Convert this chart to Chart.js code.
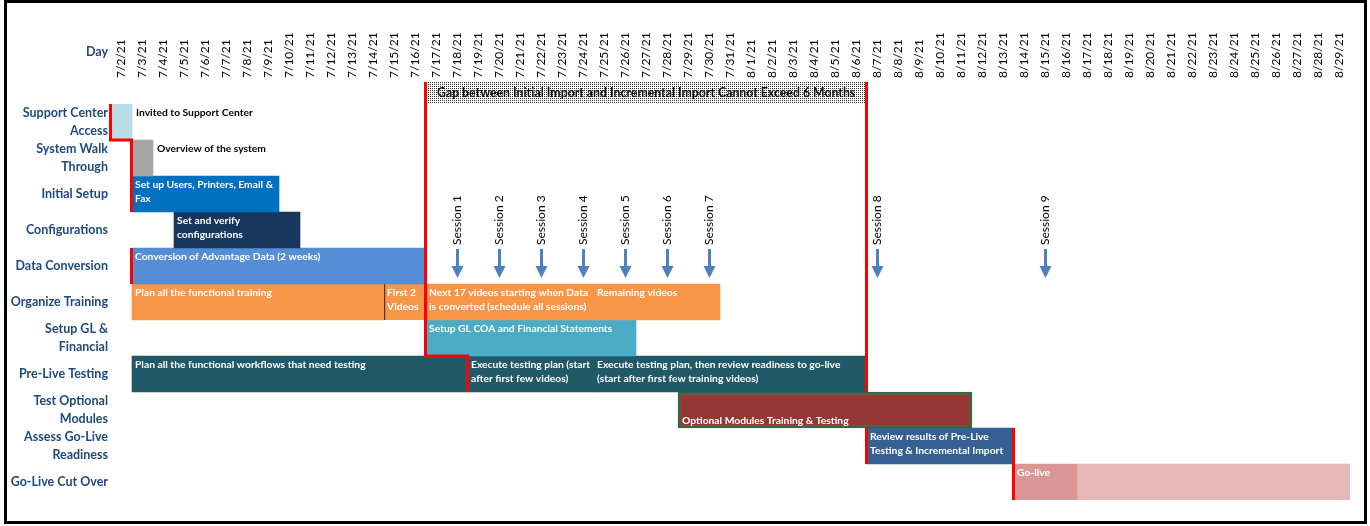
<!DOCTYPE html>
<html><head><meta charset="utf-8">
<script src="https://cdn.jsdelivr.net/npm/chart.js@4.4.1/dist/chart.umd.min.js"></script>
<style>
html,body{margin:0;padding:0;background:#fff;}
#wrap{position:relative;width:1370px;height:526px;overflow:hidden;}
#frame{position:absolute;left:4px;top:0;width:1363px;height:524px;box-sizing:border-box;border:3px solid #000;pointer-events:none;}
canvas{position:absolute;left:0;top:0;}
</style></head><body>
<div id="wrap"><canvas id="c" width="1370" height="526"></canvas><div id="frame"></div></div>
<script>
// ---------- DATA ----------
const days = ['7/2/21','7/3/21','7/4/21','7/5/21','7/6/21','7/7/21','7/8/21','7/9/21','7/10/21','7/11/21',
  '7/12/21','7/13/21','7/14/21','7/15/21','7/16/21','7/17/21','7/18/21','7/19/21','7/20/21','7/21/21',
  '7/22/21','7/23/21','7/24/21','7/25/21','7/26/21','7/27/21','7/28/21','7/29/21','7/30/21','7/31/21',
  '8/1/21','8/2/21','8/3/21','8/4/21','8/5/21','8/6/21','8/7/21','8/8/21','8/9/21','8/10/21',
  '8/11/21','8/12/21','8/13/21','8/14/21','8/15/21','8/16/21','8/17/21','8/18/21','8/19/21','8/20/21',
  '8/21/21','8/22/21','8/23/21','8/24/21','8/25/21','8/26/21','8/27/21','8/28/21','8/29/21'];

const rowLabels = [['Support Center','Access'], ['System Walk','Through'], 'Initial Setup', 'Configurations',
  'Data Conversion', 'Organize Training', ['Setup GL &','Financial'], 'Pre-Live Testing',
  ['Test Optional','Modules'], ['Assess Go-Live','Readiness'], 'Go-Live Cut Over'];

const taskRow   = [0,1,2,3,4,5,5,5,5,6,7,7,7,8,9,10,10];
const taskStart = ['7/2/21','7/3/21','7/3/21','7/5/21','7/3/21','7/3/21','7/15/21','7/17/21','7/25/21',
  '7/17/21','7/3/21','7/19/21','7/25/21','7/29/21','8/7/21','8/14/21','8/17/21'];
const taskEnd   = ['7/2/21','7/3/21','7/9/21','7/10/21','7/16/21','7/14/21','7/16/21','7/24/21','7/30/21',
  '7/26/21','7/18/21','7/24/21','8/6/21','8/11/21','8/13/21','8/16/21','8/29/21'];
const taskText = [
  ['Invited to Support Center'],
  ['Overview of the system'],
  ['Set up Users, Printers, Email &','Fax'],
  ['Set and verify','configurations'],
  ['Conversion of Advantage Data (2 weeks)'],
  ['Plan all the functional training'],
  ['First 2','Videos'],
  ['Next 17 videos starting when Data','is converted (schedule all sessions)'],
  ['Remaining videos'],
  ['Setup GL COA and Financial Statements'],
  ['Plan all the functional workflows that need testing'],
  ['Execute testing plan (start','after first few videos)'],
  ['Execute testing plan, then review readiness to go-live','(start after first few training videos)'],
  ['Optional Modules Training & Testing'],
  ['Review results of Pre-Live','Testing & Incremental Import'],
  ['Go-live'],
  []
];

const sessionNames = ['Session 1','Session 2','Session 3','Session 4','Session 5','Session 6','Session 7','Session 8','Session 9'];
const sessionDays  = ['7/18/21','7/20/21','7/22/21','7/24/21','7/26/21','7/28/21','7/30/21','8/7/21','8/15/21'];

const gapStart = '7/17/21';
const gapEnd   = '8/6/21';
const gapText  = 'Gap between Initial Import and Incremental Import Cannot Exceed 6 Months';

// milestone (red) paths: [day boundary, row edge]; 'gap' = top of the gap banner
const milestonePaths = [
  [['7/2/21',0],['7/2/21',1],['7/3/21',1],['7/3/21',3]],
  [['7/3/21',4],['7/3/21',5]],
  [['7/17/21','gap'],['7/17/21',7],['7/19/21',7],['7/19/21',8]],
  [['8/7/21','gap'],['8/7/21',8]],
  [['8/7/21',9],['8/7/21',10]],
  [['8/14/21',9],['8/14/21',11]]
];

// ---------- STYLE ----------
const taskColor = ['#B7DEE8','#A6A6A6','#0070C0','#17375E','#558ED5','#F79646','#F79646','#F79646','#F79646',
  '#4BACC6','#215968','#215968','#215968','#953735','#366092','#DA9694','#E6B8B7'];
const taskTextColor = ['#000','#000','#fff','#fff','#fff','#fff','#fff','#fff','#fff','#fff','#fff','#fff','#fff','#fff','#fff','#fff','#fff'];
const taskTextMode = ['outside','outside','in','in','in','in','in','in','in','in','in','in','in','bottom','in','in','in'];
const taskBorder = taskRow.map((r,i) => i === 13 ? {w:2.5, c:'#2D6B47'} : (i === 6 ? {w:{left:1.5,top:0,right:0,bottom:0}, c:'#000'} : {w:0, c:'rgba(0,0,0,0)'}));

const FONT = 'Lato, "Noto Sans", sans-serif';
Chart.defaults.font.family = FONT;

const idx = d => days.indexOf(d);

const datasets = taskRow.map((r, i) => {
  const data = rowLabels.map(() => null);
  data[r] = [idx(taskStart[i]), idx(taskEnd[i]) + 1];
  return {
    label: 'task' + i,
    data,
    backgroundColor: taskColor[i],
    borderColor: taskBorder[i].c,
    borderWidth: taskBorder[i].w,
    borderSkipped: false,
    grouped: false,
    barPercentage: 1,
    categoryPercentage: 1
  };
});

// dotted pattern for banner
const pc = document.createElement('canvas'); pc.width = 2; pc.height = 2;
const pctx = pc.getContext('2d');
pctx.fillStyle = '#fff'; pctx.fillRect(0,0,2,2);
pctx.fillStyle = '#333'; pctx.fillRect(0,0,1,1);

const overlay = {
  id: 'overlay',
  afterDatasetsDraw(chart) {
    const {ctx, chartArea, scales: {x, y}} = chart;
    const rowH = y.getPixelForValue(1) - y.getPixelForValue(0);
    const bannerH = 22;
    const edgeY = e => e === 'gap' ? chartArea.top - bannerH : chartArea.top + e * rowH;
    ctx.save();

    // Day label
    ctx.font = 'bold 12.5px ' + FONT;
    ctx.fillStyle = '#1F497D';
    ctx.textAlign = 'right'; ctx.textBaseline = 'middle';
    ctx.fillText('Day', chartArea.left - 3, chartArea.top - 52);

    // Gap banner
    const gx0 = x.getPixelForValue(idx(gapStart));
    const gx1 = x.getPixelForValue(idx(gapEnd) + 1);
    ctx.fillStyle = ctx.createPattern(pc, 'repeat');
    ctx.fillRect(gx0, chartArea.top - bannerH, gx1 - gx0, bannerH);
    ctx.font = 'bold 12.3px ' + FONT;
    ctx.textAlign = 'left';
    ctx.fillStyle = '#111';
    ctx.fillText(gapText, gx0 + 11, chartArea.top - bannerH / 2);

    // Task texts
    ctx.font = 'bold 10.3px ' + FONT;
    ctx.textBaseline = 'middle';
    taskRow.forEach((r, i) => {
      const lines = taskText[i];
      if (!lines.length) return;
      const s = x.getPixelForValue(idx(taskStart[i]));
      const e = x.getPixelForValue(idx(taskEnd[i]) + 1);
      const top = edgeY(r);
      ctx.fillStyle = taskTextColor[i];
      let tx = s + 3, ty = top + 8.5;
      if (taskTextMode[i] === 'outside') { tx = e + 4; ty = top + 9; }
      if (taskTextMode[i] === 'bottom') { tx = s + 4; ty = top + 29; }
      lines.forEach((ln, k) => ctx.fillText(ln, tx, ty + k * 14));
    });

    // Sessions
    sessionDays.forEach((d, i) => {
      const cx = x.getPixelForValue(idx(d) + 0.5);
      const t = edgeY(4);
      ctx.save();
      ctx.translate(cx, t - 3);
      ctx.rotate(-Math.PI / 2);
      ctx.font = '12px ' + FONT;
      ctx.fillStyle = '#000';
      ctx.textAlign = 'left'; ctx.textBaseline = 'middle';
      ctx.fillText(sessionNames[i], 0, 0);
      ctx.restore();
      ctx.fillStyle = '#4F81BD';
      ctx.fillRect(cx - 1.5, t + 1, 3, 19);
      ctx.beginPath();
      ctx.moveTo(cx - 6, t + 18);
      ctx.lineTo(cx + 6, t + 18);
      ctx.lineTo(cx, t + 30);
      ctx.closePath();
      ctx.fill();
    });

    // milestone red lines
    ctx.strokeStyle = '#FF0000';
    ctx.lineWidth = 3;
    ctx.lineJoin = 'miter';
    milestonePaths.forEach(p => {
      ctx.beginPath();
      p.forEach(([d, e], k) => {
        const px = x.getPixelForValue(idx(d)) - 0.5;
        const py = edgeY(e);
        if (k === 0) ctx.moveTo(px, py); else ctx.lineTo(px, py);
      });
      ctx.stroke();
    });
    ctx.restore();
  }
};

new Chart(document.getElementById('c'), {
  type: 'bar',
  data: { labels: rowLabels, datasets },
  options: {
    indexAxis: 'y',
    responsive: false,
    animation: false,
    events: [],
    layout: { padding: { left: 0, right: 20, top: 0, bottom: 26 } },
    plugins: { legend: { display: false }, tooltip: { enabled: false } },
    scales: {
      x: {
        type: 'linear',
        position: 'top',
        min: 0, max: days.length,
        grid: { display: false, drawTicks: false },
        border: { display: false },
        afterBuildTicks: s => { s.ticks = days.map((d, i) => ({ value: i + 0.5 })); },
        afterFit: s => { s.height = 104; },
        ticks: {
          autoSkip: false,
          minRotation: 90, maxRotation: 90,
          padding: 26,
          color: '#000',
          font: { size: 12, lineHeight: '0px' },
          callback: (v, i) => days[i]
        }
      },
      y: {
        type: 'category',
        offset: true,
        grid: { display: false, drawTicks: false },
        border: { display: false },
        afterFit: s => { s.width = 111; },
        ticks: {
          autoSkip: false,
          padding: 3,
          color: '#1F497D',
          font: { size: 12.5, weight: 'bold', lineHeight: '18px' }
        }
      }
    }
  },
  plugins: [overlay]
});
</script>
</body></html>
